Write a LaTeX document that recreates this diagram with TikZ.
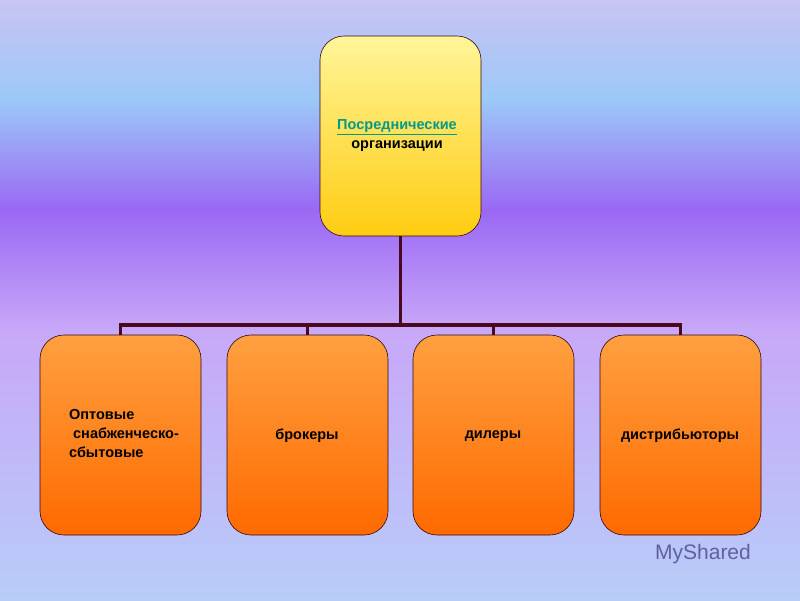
\documentclass[tikz,border=0pt]{standalone}
\usepackage{fontspec}
\setmainfont{Liberation Sans}
\usetikzlibrary{positioning}
\definecolor{bgA}{HTML}{C8C4F4}
\definecolor{bgB}{HTML}{9CC8F8}
\definecolor{bgC}{HTML}{9A68F4}
\definecolor{bgD}{HTML}{C8A8F8}
\definecolor{bgE}{HTML}{B8CCF8}
\definecolor{lnk}{HTML}{009A8A}
\definecolor{conn}{HTML}{4A0820}
\definecolor{yTop}{HTML}{FFF59A}
\definecolor{yBot}{HTML}{FFCC10}
\definecolor{oTop}{HTML}{FFA040}
\definecolor{oBot}{HTML}{FF6A00}
\tikzset{
  box/.style={draw=conn!70!black, line width=0.6pt, rounded corners=24pt, minimum width=161pt, minimum height=200pt, inner sep=0pt},
  topbox/.style={box, top color=yTop, bottom color=yBot},
  lowbox/.style={box, top color=oTop, bottom color=oBot},
  lbl/.style={font=\bfseries\fontsize{14.5pt}{19pt}\selectfont},
  conline/.style={draw=conn, line width=3.5pt}
}
\begin{document}
\begin{tikzpicture}[x=1pt,y=-1pt]
\useasboundingbox (0,0) rectangle (800,600);
\shade[top color=bgA, bottom color=bgB] (0,0) rectangle (800,100);
\shade[top color=bgB, bottom color=bgC] (0,100) rectangle (800,210);
\shade[top color=bgC, bottom color=bgD] (0,210) rectangle (800,330);
\shade[top color=bgD, bottom color=bgE] (0,330) rectangle (800,600);
\node[topbox] (top) at (400.5,136) {};
\node[lbl, align=center] (tt) at (397,136) {\textcolor{lnk}{\underline{Посреднические}}\\ организации};
\node[lowbox] (b1) at (120.5,435) {};
\node[lowbox] (b2) at (307.5,435) {};
\node[lowbox] (b3) at (493.5,435) {};
\node[lowbox] (b4) at (680.5,435) {};
\node[lbl, align=left] (t1) at (124,433) {Оптовые\\ \ снабженческо-\\ сбытовые};
\node[lbl] (t2) at (307,436) {брокеры};
\node[lbl] (t3) at (493,436) {дилеры};
\node[lbl] (t4) at (680,436) {дистрибьюторы};
\coordinate (bus) at (400.5,325);
\draw[conline] (top.south) -- (bus);
\draw[conline, line cap=rect] (b1.north |- bus) -- (b4.north |- bus);
\foreach \b in {b1,b2,b3,b4} \draw[conline] (\b.north |- bus) -- (\b.north);
\node[text=gray!60!blue!70!black, opacity=0.7, font=\fontsize{21pt}{21pt}\selectfont] (wm) at (703,554) {MyShared};
\end{tikzpicture}
\end{document}
